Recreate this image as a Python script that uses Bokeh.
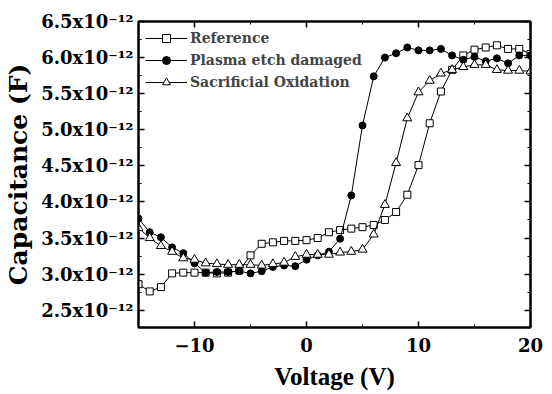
from bokeh.plotting import figure
from bokeh.models import FixedTicker, LinearAxis, Range1d, Legend, LegendItem
from bokeh.embed import file_html
from bokeh.resources import INLINE

voltage = list(range(-15, 21))
reference = [2.86, 2.76, 2.82, 3.01, 3.02, 3.02, 3.02, 3.01, 3.02, 3.05,
             3.26, 3.42, 3.44, 3.46, 3.46, 3.47, 3.50, 3.58, 3.61, 3.63,
             3.65, 3.68, 3.75, 3.86, 4.10, 4.51, 5.09, 5.53, 5.83, 6.03,
             6.11, 6.14, 6.17, 6.12, 6.12, 6.05]
plasma = [3.77, 3.58, 3.51, 3.37, 3.29, 3.15, 3.02, 3.03, 3.03, 3.04,
          3.01, 3.04, 3.10, 3.12, 3.11, 3.20, 3.26, 3.31, 3.49, 4.09,
          5.06, 5.74, 6.00, 6.06, 6.14, 6.10, 6.10, 6.12, 6.03, 5.97,
          6.01, 5.95, 5.99, 5.92, 6.03, 6.03]
sacrificial = [3.64, 3.50, 3.39, 3.31, 3.22, 3.20, 3.15, 3.14, 3.13, 3.13,
               3.13, 3.12, 3.14, 3.16, 3.24, 3.27, 3.27, 3.27, 3.30, 3.31,
               3.34, 3.55, 3.96, 4.54, 5.16, 5.52, 5.68, 5.78, 5.83, 5.87,
               5.90, 5.90, 5.83, 5.82, 5.82, 5.81]

y_ticks = [2.5, 3.0, 3.5, 4.0, 4.5, 5.0, 5.5, 6.0, 6.5]
y_tick_labels = [f"{t:.1f}x10\u207b\u00b9\u00b2" for t in y_ticks]
x_ticks = [-10, 0, 10, 20]
x_minor = [-15, -5, 5, 15]
y_minor = [2.25, 2.75, 3.25, 3.75, 4.25, 4.75, 5.25, 5.75, 6.25]

FONT = "DejaVu Serif"
TITLE_FONT = "Liberation Serif"

p = figure(width=544, height=392, output_backend="svg", toolbar_location=None,
           x_range=Range1d(-15, 20), y_range=Range1d(2.26, 6.5),
           min_border_left=138, min_border_right=14, min_border_top=21,
           min_border_bottom=56)
p.background_fill_color = "white"
p.border_fill_color = "white"
p.xgrid.visible = False
p.ygrid.visible = False
p.outline_line_color = "black"
p.outline_line_width = 2

xt = FixedTicker(ticks=x_ticks, minor_ticks=x_minor)
yt = FixedTicker(ticks=y_ticks, minor_ticks=y_minor)

def style(ax, labels=True):
    ax.axis_line_width = 2
    ax.axis_line_color = "black"
    ax.major_tick_in = 6
    ax.major_tick_out = 0
    ax.minor_tick_in = 3
    ax.minor_tick_out = 0
    ax.major_tick_line_width = 1.5
    ax.minor_tick_line_width = 1
    ax.major_label_text_font = FONT
    ax.major_label_text_font_style = "bold"
    ax.major_label_text_font_size = "18px"
    ax.major_label_text_color = "black"
    if not labels:
        ax.major_label_text_alpha = 0
        ax.major_label_text_font_size = "1px"

p.xaxis.ticker = xt
p.yaxis.ticker = yt
style(p.xaxis[0])
style(p.yaxis[0])
p.yaxis.major_label_overrides = {t: l for t, l in zip(y_ticks, y_tick_labels)}
p.xaxis.axis_label = "Voltage (V)"
p.yaxis.axis_label = "Capacitance (F)"
for ax in (p.xaxis[0], p.yaxis[0]):
    ax.axis_label_text_font_style = "bold"
    ax.axis_label_text_color = "black"
p.xaxis.axis_label_text_font = TITLE_FONT
p.yaxis.axis_label_text_font = FONT
p.xaxis.axis_label_text_font_size = "25px"
p.yaxis.axis_label_text_font_size = "25px"
p.xaxis.axis_label_standoff = 8
p.yaxis.axis_label_standoff = 5
p.xaxis.major_label_standoff = 10
p.yaxis.major_label_standoff = 5

top = LinearAxis(ticker=xt)
style(top, labels=False)
p.add_layout(top, "above")
right = LinearAxis(ticker=yt)
style(right, labels=False)
p.add_layout(right, "right")

l1 = p.line(voltage, reference, line_color="black", line_width=1)
m1 = p.scatter(voltage, reference, marker="square", size=7, fill_color="white",
               line_color="black", line_width=1)
l2 = p.line(voltage, plasma, line_color="black", line_width=1)
m2 = p.scatter(voltage, plasma, marker="circle", size=7, fill_color="black",
               line_color="black", line_width=1)
l3 = p.line(voltage, sacrificial, line_color="black", line_width=1)
m3 = p.scatter(voltage, sacrificial, marker="triangle", size=9, fill_color="white",
               line_color="black", line_width=1)

legend = Legend(items=[
    LegendItem(label="Reference", renderers=[l1, m1]),
    LegendItem(label="Plasma etch damaged", renderers=[l2, m2]),
    LegendItem(label="Sacrificial Oxidation", renderers=[l3, m3]),
], location="top_left")
legend.border_line_alpha = 0
legend.background_fill_alpha = 0
legend.label_text_font = FONT
legend.label_text_font_style = "bold"
legend.label_text_font_size = "14px"
legend.glyph_width = 42
legend.glyph_height = 20
legend.label_height = 20
legend.spacing = 2
legend.padding = 4
legend.margin = 3
legend.label_standoff = 3
p.add_layout(legend)

open("out.html", "w").write(file_html(p, INLINE))
